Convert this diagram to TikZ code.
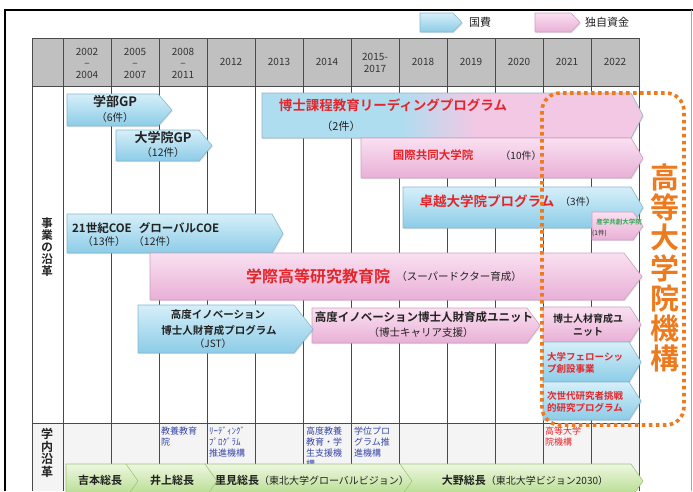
\documentclass[tikz,border=0pt]{standalone}
\usepackage{fontspec}
\setmainfont{Noto Sans CJK JP}[BoldFont={Noto Sans CJK JP Bold}]
\usetikzlibrary{shadows}
\definecolor{blueT}{HTML}{D6EFF9}
\definecolor{blueB}{HTML}{8CCCE7}
\definecolor{blueE}{HTML}{86B7CD}
\definecolor{blueM}{HTML}{AEDDF0}
\definecolor{pinkT}{HTML}{FAE0F1}
\definecolor{pinkB}{HTML}{E8B0D6}
\definecolor{pinkE}{HTML}{CDA0BF}
\definecolor{pinkM}{HTML}{F2C8E4}
\definecolor{greenT}{HTML}{EDF7E0}
\definecolor{greenB}{HTML}{B2DA88}
\definecolor{greenE}{HTML}{9CC47A}
\definecolor{hdr}{HTML}{C0C0C0}
\definecolor{rowbg}{HTML}{F4F4F4}
\definecolor{gridc}{HTML}{4A4A4A}
\definecolor{redt}{HTML}{E3262B}
\definecolor{bluet}{HTML}{3646A8}
\definecolor{orng}{HTML}{EE7A1E}
\definecolor{grnt}{HTML}{2FA84F}
\definecolor{txt}{HTML}{222222}
\pgfdeclarehorizontalshading{bluepink}{100bp}{color(0bp)=(blueM); color(43bp)=(blueM); color(53bp)=(pinkM); color(100bp)=(pinkM)}
\newcommand{\fsz}[1]{\fontsize{#1}{#1}\selectfont}
\newcommand{\parr}[6]{\path[#1] (#2,#3) -- ({#4-#6},#3) -- (#4,{(#3+#5)/2}) -- ({#4-#6},#5) -- (#2,#5) -- cycle;}
\tikzset{
  shd/.style={drop shadow={shadow xshift=0.8pt, shadow yshift=-1.2pt, opacity=0.22}},
  barrow/.style={top color=blueT, bottom color=blueB, draw=blueE, line width=0.6pt, shd},
  parrow/.style={top color=pinkT, bottom color=pinkB, draw=pinkE, line width=0.6pt, shd},
  bparrow/.style={shading=bluepink, draw=blueE!70!pinkE, line width=0.6pt, shd},
  garrow/.style={top color=greenT, bottom color=greenB, draw=greenE, line width=0.6pt},
  lbl/.style={inner sep=0pt, text=txt},
  gridl/.style={draw=gridc, line width=0.7pt},
}
\begin{document}
\begin{tikzpicture}[x=1pt,y=-1pt]
\useasboundingbox (0,0) rectangle (693,491);
\clip (0,0) rectangle (693,491);
\fill[white] (0,0) rectangle (693,491);
% frame
\draw[black, line width=2.5pt] (5,491) -- (5,10) -- (693,10);
\draw[black!35, line width=0.6pt] (691,10) -- (691,491);
% legend
\parr{barrow}{420}{13}{462}{32}{9}
\node[lbl, font=\fsz{11}] (lgA) at (480,22) {国費};
\parr{parrow}{535}{13}{580}{32}{9}
\node[lbl, font=\fsz{11}] (lgB) at (607,22) {独自資金};
% table backgrounds
\fill[hdr] (32,38) rectangle (639,86);
\fill[rowbg] (32,423) rectangle (639,491);
\foreach \x in {32,63,111,...,639} \draw[gridl] (\x,38) -- (\x,491);
\draw[gridl] (32,38) -- (639,38);
\draw[gridl] (32,86) -- (639,86);
\draw[gridl] (32,423) -- (639,423);
% header years
\begin{scope}[every node/.style={lbl, font=\fontsize{10}{11.5}\selectfont, align=center, text=black!80}]
\node (y1) at (87,63) {2002\\–\\2004};
\node (y2) at (135,63) {2005\\–\\2007};
\node (y3) at (183,63) {2008\\–\\2011};
\node (y4) at (231,62) {2012};
\node (y5) at (279,62) {2013};
\node (y6) at (327,62) {2014};
\node (y7) at (375,63) {2015-\\2017};
\node (y8) at (423,62) {2018};
\node (y9) at (471,62) {2019};
\node (y10) at (519,62) {2020};
\node (y11) at (567,62) {2021};
\node (y12) at (615,62) {2022};
\end{scope}
% side labels
\node[lbl, font=\fontsize{11.5}{12}\selectfont\bfseries, align=center] (sideA) at (47,247) {事\\業\\の\\沿\\革};
\node[lbl, font=\fontsize{12}{12.5}\selectfont\bfseries, align=center] (sideB) at (47,453) {学\\内\\沿\\革};
% arrows
\parr{bparrow}{262}{93}{643}{138}{12}
\parr{parrow}{361}{138}{643}{178}{12}
\parr{barrow}{403}{187}{643}{228}{12}
\parr{parrow}{592}{212}{643}{240}{10}
\parr{barrow}{67}{94}{172}{126}{14}
\parr{barrow}{116}{130}{212}{161}{13}
\parr{barrow}{67}{214}{283}{253}{11}
\parr{parrow}{150}{253}{642}{300}{18}
\parr{parrow}{312}{308}{540}{343}{13}
\parr{barrow}{138}{305}{313}{353}{19}
\parr{parrow}{543}{307}{641}{342}{11}
\parr{barrow}{543}{342}{641}{382}{12}
\parr{barrow}{543}{382}{641}{420}{12}
% arrow texts
\node[lbl, font=\fsz{13}\bfseries] (t1) at (115,102) {学部GP};
\node[lbl, font=\fsz{10.5}] (t1n) at (115,118) {（6件）};
\node[lbl, font=\fsz{13}\bfseries] (t2) at (163,138) {大学院GP};
\node[lbl, font=\fsz{10.5}] (t2n) at (163,153) {（12件）};
\node[lbl, font=\fsz{13.5}\bfseries, text=redt] (t3) at (393,105) {博士課程教育リーディングプログラム};
\node[lbl, font=\fsz{11}] (t3n) at (341,126) {（2件）};
\node[lbl, font=\fsz{11.5}\bfseries, text=redt] (t4) at (433,155) {国際共同大学院};
\node[lbl, font=\fsz{10}] (t4n) at (521,156) {（10件）};
\node[lbl, font=\fsz{13.5}\bfseries, text=redt] (t5) at (487,201) {卓越大学院プログラム};
\node[lbl, font=\fsz{10}] (t5n) at (578,202) {（3件）};
\node[lbl, font=\fsz{6.5}\bfseries, text=grnt] (t6) at (619,222) {産学共創大学院};
\node[lbl, font=\fsz{6.5}, anchor=west] (t6n) at (592,233) {(1件)};
\node[lbl, font=\fsz{11.5}\bfseries] (t7a) at (102,228) {21世紀COE};
\node[lbl, font=\fsz{11.5}\bfseries] (t7b) at (179,228) {グローバルCOE};
\node[lbl, font=\fsz{10.5}] (t7c) at (104,242) {（13件）};
\node[lbl, font=\fsz{10.5}] (t7d) at (155,242) {（12件）};
\node[lbl, font=\fsz{16}\bfseries, text=redt] (t8) at (318,276) {学際高等研究教育院};
\node[lbl, font=\fsz{10.5}] (t8n) at (459,277) {（スーパードクター育成）};
\node[lbl, font=\fsz{10.5}] (t9a) at (218,315) {\bfseries 高度イノベーション};
\node[lbl, font=\fsz{10.5}\bfseries] (t9b) at (219,330) {博士人財育成プログラム};
\node[lbl, font=\fsz{10}] (t9c) at (213,344) {（JST）};
\node[lbl, font=\fsz{11.5}\bfseries] (t10) at (424,317) {高度イノベーション博士人財育成ユニット};
\node[lbl, font=\fsz{10.5}] (t10n) at (421,333) {（博士キャリア支援）};
\node[lbl, font=\fontsize{10}{13}\selectfont\bfseries, align=center] (t11) at (588,325) {博士人材育成ユ\\ニット};
\node[lbl, font=\fontsize{9.5}{12}\selectfont\bfseries, align=left, text=redt, anchor=west] (t12) at (547,363) {大学フェローシッ\\プ創設事業};
\node[lbl, font=\fontsize{9.5}{12.5}\selectfont\bfseries, align=left, text=redt, anchor=west] (t13) at (547,402) {次世代研究者挑戦\\的研究プログラム};
% bottom row texts
\begin{scope}[every node/.style={lbl, font=\fontsize{9}{11}\selectfont, align=left, anchor=north west, text=bluet}]
\node (b1) at (161,427) {教養教育\\院};
\node (b2) at (209,427) {ﾘｰﾃﾞｨﾝｸﾞ\\ﾌﾟﾛｸﾞﾗﾑ\\推進機構};
\node (b3) at (306,427) {高度教養\\教育・学\\生支援機\\構};
\node (b4) at (354,427) {学位プロ\\グラム推\\進機構};
\node[text=redt] (b5) at (545,427) {高等大学\\院機構};
\end{scope}
% green president arrows (later ones first so earlier tips overlap)
\parr{garrow}{400}{464}{643}{498}{12}
\parr{garrow}{205}{464}{412}{498}{12}
\parr{garrow}{126}{464}{217}{498}{12}
\parr{garrow}{66}{464}{138}{498}{12}
\node[lbl, font=\fsz{11}\bfseries] (p1) at (100,480) {吉本総長};
\node[lbl, font=\fsz{11}\bfseries] (p2) at (172,480) {井上総長};
\node[lbl, font=\fsz{10}] (p3) at (312,480) {{\fsz{11}\bfseries 里見総長}（東北大学グローバルビジョン）};
\node[lbl, font=\fsz{10}] (p4) at (525,480) {{\fsz{11}\bfseries 大野総長}（東北大学ビジョン2030）};
% orange box
\draw[orng, line width=3.6pt, dash pattern=on 3.6pt off 3.4pt, rounded corners=18pt] (542,93) rectangle (684,425);
\node[lbl, text=orng, font=\fontsize{29}{30.3}\selectfont\bfseries, align=center] (org) at (665,268) {高\\等\\大\\学\\院\\機\\構};
\end{tikzpicture}
\end{document}
